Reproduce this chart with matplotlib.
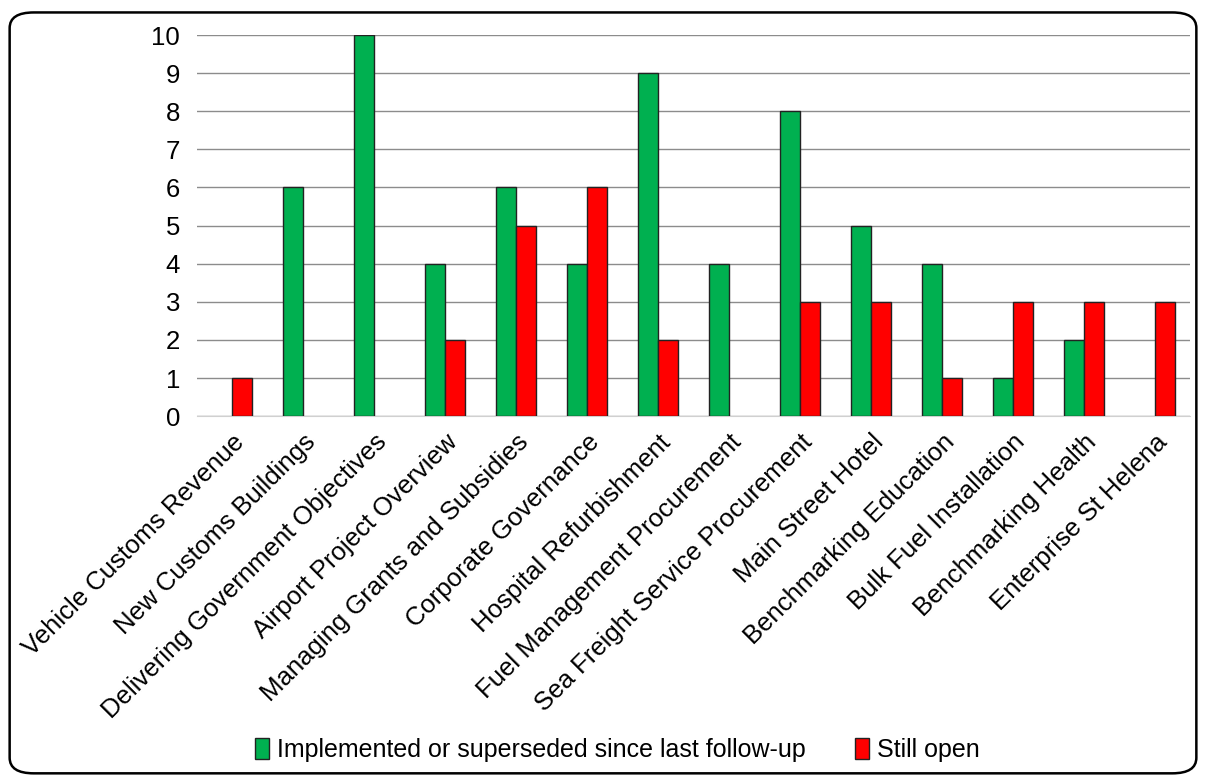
import numpy as np
import matplotlib.pyplot as plt
from matplotlib.patches import FancyBboxPatch

categories = ['Vehicle Customs Revenue', 'New Customs Buildings',
              'Delivering Government Objectives', 'Airport Project Overview',
              'Managing Grants and Subsidies', 'Corporate Governance',
              'Hospital Refurbishment', 'Fuel Management Procurement',
              'Sea Freight Service Procurement', 'Main Street Hotel',
              'Benchmarking Education', 'Bulk Fuel Installation',
              'Benchmarking Health', 'Enterprise St Helena']
implemented = [0, 6, 10, 4, 6, 4, 9, 4, 8, 5, 4, 1, 2, 0]
still_open = [1, 0, 0, 2, 5, 6, 2, 0, 3, 3, 1, 3, 3, 3]

plt.rcParams['font.family'] = ['Liberation Sans', 'DejaVu Sans']

fig = plt.figure(figsize=(12.06, 7.78), dpi=100)
ax = fig.add_axes([0.163, 0.465, 0.824, 0.49])

x = np.arange(len(categories))
w = 0.28
edges_g = ['#222222' if v > 0 else 'none' for v in implemented]
edges_r = ['#222222' if v > 0 else 'none' for v in still_open]
ax.bar(x - w/2, implemented, w, color='#00B050', edgecolor=edges_g, linewidth=1,
       label='Implemented or superseded since last follow-up', zorder=3)
ax.bar(x + w/2, still_open, w, color='#FF0000', edgecolor=edges_r, linewidth=1,
       label='Still open', zorder=3)

ax.set_xlim(-0.5, len(categories) - 0.5)
ax.set_ylim(0, 10)
ax.set_yticks(range(0, 11))
ax.yaxis.grid(True, color='#8c8c8c', linewidth=1, zorder=0)
ax.tick_params(axis='both', length=0, labelsize=18.5, colors='black')
ax.tick_params(axis='y', pad=12)
ax.set_xticks(x)
ax.set_xticklabels(categories, rotation=45, ha='right', rotation_mode='anchor')
ax.tick_params(axis='x', pad=10)
for s in ['top', 'right', 'left']:
    ax.spines[s].set_visible(False)
ax.spines['bottom'].set_color('#d0d0d0')

leg = fig.legend(loc='center', bbox_to_anchor=(0.512, 0.036), ncol=2, frameon=False,
                 fontsize=18, handlelength=0.55, handleheight=0.9, handletextpad=0.3,
                 columnspacing=2.0)
for h in leg.legend_handles:
    h.set_edgecolor('#222222')

border = FancyBboxPatch((0.008, 0.006), 0.984, 0.978, boxstyle='round,pad=0,rounding_size=0.02',
                        transform=fig.transFigure, fill=False, edgecolor='black', linewidth=1.8)
fig.patches.append(border)

fig.savefig('out.png', dpi=100)
